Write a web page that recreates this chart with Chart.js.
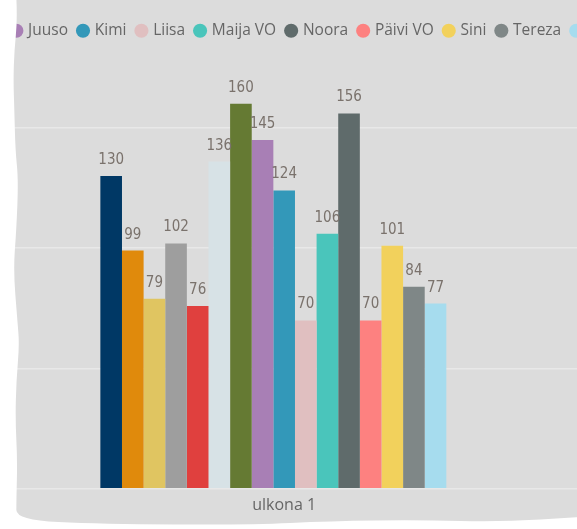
<!DOCTYPE html>
<html>
<head>
<meta charset="utf-8">
<script src="https://cdn.jsdelivr.net/npm/chart.js@4/dist/chart.umd.min.js"></script>
<style>
  html, body { margin: 0; padding: 0; background: #fff; overflow: hidden; }
  body { width: 577px; height: 529px; position: relative; }
  #chart { position: absolute; top: 0; left: 0; }
</style>
</head>
<body>
<canvas id="chart" width="1600" height="529"></canvas>
<script>
const categories = ["ulkona 1"];

// names left of "Juuso" and right of "Tereza" are cut off in the screenshot
const names = [
    "Aino", "Eetu", "Elina", "Emma", "Heidi", "Jaana", "Jenni",
    "Juuso", "Kimi", "Liisa", "Maija VO", "Noora", "Päivi VO", "Sini", "Tereza",
    "Tiina", "Ville",
];

const values = [
    130, 99, 79, 102, 76, 136, 160,
    145, 124, 70, 106, 156, 70, 101, 84,
    77, null,
];

const colors = [
    "#003865", "#e08a0c", "#e0c561", "#9e9e9e", "#e0403e", "#d7e2e6", "#657a33",
    "#a87fb5", "#3398b9", "#e0bfc0", "#4ac5bb", "#5f6b6b", "#fd8180", "#f2d15c", "#7f8787",
    "#a6dcee", "#c9a86b",
];

const yTicks = { min: 0, max: 183, step: 50 };

let pageLeft = 0;

const background = {
    id: "background",
    beforeDraw(chart) {
        const ctx = chart.ctx;
        ctx.save();
        ctx.fillStyle = "#dcdcdc";
        ctx.fillRect(0, 0, chart.width, chart.height);
        ctx.restore();
    },
};

const valueLabels = {
    id: "valueLabels",
    afterDatasetsDraw(chart) {
        const ctx = chart.ctx;
        ctx.save();
        ctx.font = '15px "DejaVu Sans Condensed"';
        ctx.fillStyle = "#7a726c";
        ctx.textAlign = "center";
        ctx.textBaseline = "alphabetic";
        chart.data.datasets.forEach((ds, i) => {
            chart.getDatasetMeta(i).data.forEach((bar, j) => {
                if (ds.data[j] == null) return;
                ctx.fillText(ds.data[j], bar.x, bar.y - 12);
            });
        });
        ctx.restore();
    },
};

// torn paper edge of the screenshot (page coordinates)
const leftEdge = [
    [16, -2], [17, 20], [14, 50], [13, 80], [14, 110], [15, 150], [18, 180],
    [16, 230], [13, 270], [17, 320], [19, 345], [16, 380], [15, 420], [17, 460],
    [16, 500], [16, 520],
];
const bottomEdge = [
    [16, 520], [100, 524], [250, 525], [330, 521], [420, 520], [500, 522], [580, 517],
];

const tornEdge = {
    id: "tornEdge",
    afterDraw(chart) {
        const ctx = chart.ctx;
        const pts = leftEdge.concat(bottomEdge.slice(1));
        ctx.save();
        ctx.translate(-pageLeft, 0);
        ctx.fillStyle = "#ffffff";
        ctx.beginPath();
        ctx.moveTo(pageLeft - 10, -2);
        ctx.lineTo(pts[0][0], pts[0][1]);
        for (let i = 1; i < pts.length - 1; i++) {
            const mx = (pts[i][0] + pts[i + 1][0]) / 2;
            const my = (pts[i][1] + pts[i + 1][1]) / 2;
            ctx.quadraticCurveTo(pts[i][0], pts[i][1], mx, my);
        }
        ctx.lineTo(pts[pts.length - 1][0], pts[pts.length - 1][1]);
        ctx.lineTo(pageLeft + chart.width + 10, 517);
        ctx.lineTo(pageLeft + chart.width + 10, 540);
        ctx.lineTo(pageLeft - 10, 540);
        ctx.closePath();
        ctx.fill();
        ctx.restore();
    },
};

const chartData = {
    labels: categories,
    datasets: names.map((name, i) => ({
        label: name,
        data: [values[i]],
        backgroundColor: colors[i],
        borderWidth: 0,
        categoryPercentage: 0.3,
        barPercentage: 1,
    })),
};

const chartConfig = {
    type: "bar",
    data: chartData,
    options: {
        responsive: false,
        animation: false,
        layout: { padding: { left: 0, right: 0, top: 12, bottom: 7 } },
        plugins: {
            legend: {
                position: "top",
                align: "start",
                labels: {
                    usePointStyle: true,
                    pointStyle: "circle",
                    boxWidth: 8,
                    boxHeight: 10,
                    padding: 11,
                    color: "#666666",
                    font: { family: '"Open Sans"', size: 15.5 },
                },
            },
            tooltip: { enabled: false },
        },
        scales: {
            x: {
                grid: { display: false, drawTicks: false },
                border: { display: false },
                ticks: {
                    padding: 7,
                    color: "#666666",
                    font: { family: '"Open Sans"', size: 16 },
                },
            },
            y: {
                min: yTicks.min,
                max: yTicks.max,
                grid: { color: "#e8e8e8", lineWidth: 1.5, drawTicks: false },
                border: { display: false },
                ticks: { display: false, stepSize: yTicks.step, includeBounds: false },
                afterFit(scale) {
                    scale.width = 0;
                },
            },
        },
    },
    plugins: [background, valueLabels, tornEdge],
};

const canvas = document.getElementById("chart");
const chart = new Chart(canvas, chartConfig);

// the picture is a cropped screenshot: slide the canvas so the legend is cut at "Juuso",
// and centre the category under the "ulkona 1" label
const firstShown = chart.legend.legendHitBoxes[names.indexOf("Juuso")];
pageLeft = 12 - firstShown.left;
canvas.style.left = pageLeft + "px";
const areaWidth = 2 * (283.8 - pageLeft);
chart.options.layout.padding.right = chart.width - areaWidth;
chart.data.datasets.forEach((ds) => {
    ds.categoryPercentage = 367.6 / areaWidth;
});
chart.update("none");
</script>
</body>
</html>
